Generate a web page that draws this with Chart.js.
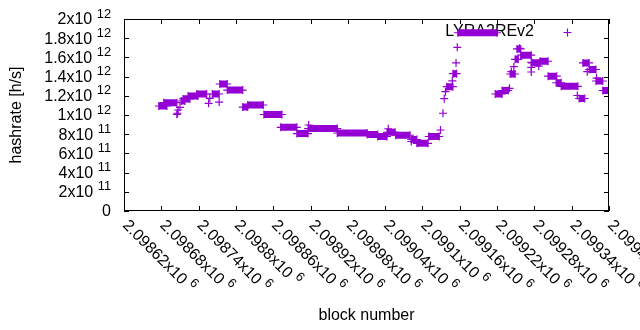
<!DOCTYPE html>
<html>
<head>
<meta charset="utf-8">
<title>LYRA2REv2 hashrate</title>
<script src="https://cdn.jsdelivr.net/npm/chart.js@4.4.1/dist/chart.umd.min.js"></script>
<style>
  html, body { margin: 0; padding: 0; background: #fff; }
  #wrap { width: 640px; height: 330px; position: relative; }
</style>
</head>
<body>
<div id="wrap"><canvas id="hashChart"></canvas></div>
<script>
// runs of consecutive blocks that share one hashrate value
const runStart = [2098676, 2098684, 2098712, 2098715, 2098723, 2098737, 2098762, 2098774, 2098786, 2098811,
  2098819, 2098845, 2098872, 2098898, 2098916, 2098963, 2099011, 2099028, 2099043, 2099057,
  2099082, 2099091, 2099110, 2099139, 2099149, 2099157, 2099217, 2099228, 2099241, 2099249,
  2099252, 2099258, 2099276, 2099289, 2099302, 2099315, 2099323, 2099352, 2099358, 2099368,
  2099379, 2099390];
const runEnd = [2098689, 2098705, 2098718, 2098726, 2098739, 2098753, 2098773, 2098786, 2098811, 2098819,
  2098844, 2098874, 2098898, 2098916, 2098963, 2099011, 2099028, 2099043, 2099056, 2099080,
  2099091, 2099109, 2099127, 2099149, 2099155, 2099220, 2099228, 2099238, 2099249, 2099254,
  2099258, 2099275, 2099289, 2099302, 2099316, 2099323, 2099350, 2099361, 2099368, 2099379,
  2099390, 2099400];
const runRate = [1.094e12, 1.128e12, 1.146e12, 1.167e12, 1.198e12, 1.219e12, 1.219e12, 1.323e12, 1.260e12, 1.083e12,
  1.104e12, 1.005e12, 0.872e12, 0.807e12, 0.859e12, 0.8125e12, 0.797e12, 0.776e12, 0.820e12, 0.789e12,
  0.745e12, 0.705e12, 0.776e12, 1.295e12, 1.430e12, 1.857e12, 1.219e12, 1.255e12, 1.427e12, 1.580e12,
  1.688e12, 1.623e12, 1.544e12, 1.560e12, 1.404e12, 1.336e12, 1.299e12, 1.172e12, 1.542e12, 1.474e12,
  1.354e12, 1.255e12];

// isolated blocks
const singleBlock = [2098705, 2098706, 2098707, 2098710, 2098756, 2098758, 2098773, 2098917, 2099045, 2099082,
  2099129, 2099133, 2099135, 2099137, 2099148, 2099154, 2099156, 2099240, 2099243, 2099247,
  2099256, 2099275, 2099275, 2099275, 2099287, 2099349, 2099365, 2099380];
const singleRate = [1.007e12, 1.018e12, 1.052e12, 1.080e12, 1.122e12, 1.174e12, 1.135e12, 0.896e12, 0.857e12, 0.724e12,
  0.844e12, 1.018e12, 1.170e12, 1.243e12, 1.356e12, 1.542e12, 1.705e12, 1.278e12, 1.451e12, 1.503e12,
  1.695e12, 1.549e12, 1.497e12, 1.448e12, 1.510e12, 1.203e12, 1.451e12, 1.385e12];

const xTickValues = [2098620, 2098680, 2098740, 2098800, 2098860, 2098920, 2098980,
  2099040, 2099100, 2099160, 2099220, 2099280, 2099340, 2099400];
const yTickValues = [0, 2e11, 4e11, 6e11, 8e11, 1e12, 1.2e12, 1.4e12, 1.6e12, 1.8e12, 2e12];

const seriesName = "LYRA2REv2";
const purple = "#9400d3";
const FONT = '"Liberation Sans", Arial, sans-serif';

// build one line dataset, segments split by null gaps
const points = [];
for (let i = 0; i < runStart.length; i++) {
  points.push({ x: runStart[i], y: runRate[i] });
  points.push({ x: runEnd[i], y: runRate[i] });
  points.push({ x: runEnd[i], y: null });
}
for (let i = 0; i < singleBlock.length; i++) {
  points.push({ x: singleBlock[i], y: singleRate[i] });
  points.push({ x: singleBlock[i], y: null });
}

// "2.09862x10^6" style pieces
function sciParts(v) {
  if (v === 0) return ["0", ""];
  const e = Math.floor(Math.log10(v) + 1e-9);
  const m = Number((v / Math.pow(10, e)).toPrecision(6));
  return [m + "x10", String(e)];
}

function drawCross(ctx, cx, cy, r) {
  ctx.beginPath();
  ctx.moveTo(cx - r, cy); ctx.lineTo(cx + r, cy);
  ctx.moveTo(cx, cy - r); ctx.lineTo(cx, cy + r);
  ctx.stroke();
}

const gnuFrame = {
  id: "gnuFrame",
  beforeDatasetsDraw(chart) {
    const ctx = chart.ctx;
    ctx.save();
    ctx.fillStyle = "#000";
    ctx.font = "16px " + FONT;
    ctx.textAlign = "right";
    ctx.textBaseline = "middle";
    ctx.fillText(seriesName, 534, 32);
    ctx.restore();
  },
  afterDraw(chart) {
    const { ctx, chartArea: a, scales } = chart;
    const xs = scales.x, ys = scales.y;
    ctx.save();
    ctx.strokeStyle = "#000";
    ctx.lineWidth = 1;
    ctx.strokeRect(a.left + 0.5, a.top + 0.5, a.right - a.left - 1, a.bottom - a.top - 1);

    // inward ticks, mirrored
    ctx.beginPath();
    xTickValues.forEach((v) => {
      const px = Math.round(xs.getPixelForValue(v)) + 0.5;
      ctx.moveTo(px, a.bottom); ctx.lineTo(px, a.bottom - 5);
      ctx.moveTo(px, a.top); ctx.lineTo(px, a.top + 5);
    });
    yTickValues.forEach((v) => {
      const py = Math.round(ys.getPixelForValue(v)) + 0.5;
      ctx.moveTo(a.left, py); ctx.lineTo(a.left + 5, py);
      ctx.moveTo(a.right, py); ctx.lineTo(a.right - 5, py);
    });
    ctx.stroke();

    ctx.fillStyle = "#000";
    // y tick labels
    yTickValues.forEach((v) => {
      const py = ys.getPixelForValue(v);
      const [m, e] = sciParts(v);
      ctx.font = "16px " + FONT;
      const wMain = ctx.measureText(m).width;
      ctx.font = "12.8px " + FONT;
      const wSup = e ? ctx.measureText(e).width + 4.5 : 0;
      const x0 = a.left - 13 - wMain - wSup;
      ctx.textAlign = "left";
      ctx.textBaseline = "middle";
      ctx.font = "16px " + FONT;
      ctx.fillText(m, x0, py + 1);
      if (e) {
        ctx.font = "12.8px " + FONT;
        ctx.fillText(e, x0 + wMain + 4.5, py - 5);
      }
    });

    // x tick labels, rotated down-right
    xTickValues.forEach((v) => {
      const px = xs.getPixelForValue(v);
      const [m, e] = sciParts(v);
      ctx.save();
      ctx.translate(px + 1, a.bottom + 12);
      ctx.rotate(Math.PI / 4);
      ctx.textAlign = "left";
      ctx.textBaseline = "middle";
      ctx.font = "16px " + FONT;
      ctx.fillText(m, 0, 0);
      const w = ctx.measureText(m).width;
      ctx.font = "12.8px " + FONT;
      ctx.fillText(e, w + 4.5, -6);
      ctx.restore();
    });

    // axis titles
    ctx.font = "16px " + FONT;
    ctx.textAlign = "center";
    ctx.textBaseline = "middle";
    ctx.fillText("block number", (a.left + a.right) / 2, 316);
    ctx.save();
    ctx.translate(17, (a.top + a.bottom) / 2);
    ctx.rotate(-Math.PI / 2);
    ctx.fillText("hashrate [h/s]", 0, 0);
    ctx.restore();

    // key sample
    ctx.strokeStyle = purple;
    ctx.lineWidth = 1.2;
    drawCross(ctx, 567.5, 32.5, 4);
    ctx.restore();
  }
};

const ctx = document.getElementById("hashChart").getContext("2d");
new Chart(ctx, {
  type: "line",
  data: {
    datasets: [
      {
        label: seriesName,
        data: points,
        borderColor: purple,
        backgroundColor: purple,
        borderWidth: 7,
        borderCapStyle: "butt",
        tension: 0,
        spanGaps: false,
        pointStyle: "cross",
        pointRadius: 4,
        pointBorderWidth: 1.2,
        pointBorderColor: purple,
        pointHoverRadius: 4,
      },
    ],
  },
  options: {
    responsive: true,
    maintainAspectRatio: false,
    animation: false,
    devicePixelRatio: 1,
    events: [],
    layout: { padding: { left: 124, right: 31, top: 19, bottom: 119 } },
    plugins: {
      legend: { display: false },
      tooltip: { enabled: false },
    },
    scales: {
      x: {
        type: "linear",
        display: false,
        min: 2098620,
        max: 2099400,
        afterBuildTicks: (scale) => {
          scale.ticks = xTickValues.map((v) => ({ value: v }));
        },
      },
      y: {
        type: "linear",
        display: false,
        min: 0,
        max: 2e12,
        afterBuildTicks: (scale) => {
          scale.ticks = yTickValues.map((v) => ({ value: v }));
        },
      },
    },
  },
  plugins: [gnuFrame],
});
</script>
</body>
</html>
